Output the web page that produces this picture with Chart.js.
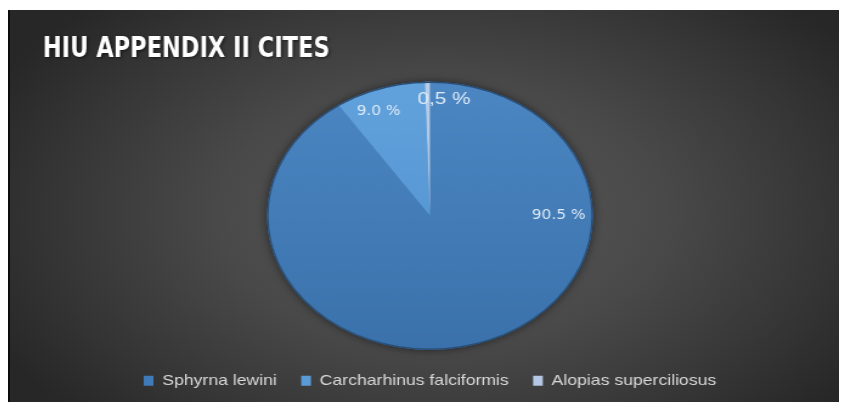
<!DOCTYPE html>
<html>
<head>
<meta charset="utf-8">
<script src="https://cdn.jsdelivr.net/npm/chart.js@4/dist/chart.umd.min.js"></script>
<style>
  html, body { margin: 0; padding: 0; background: #fff; }
  #frame {
    position: absolute; left: 8px; top: 10px;
    width: 829px; height: 392px;
    border-left: 2px solid #0c0c0c;
    background: radial-gradient(ellipse 60% 75% at 52% 52%, #5a5a5a 0%, #494949 45%, #343434 80%, #272727 100%);
    overflow: hidden;
  }
  /* the original picture is stretched sideways, so the canvas is too */
  #chart { position: absolute; left: 0; top: 0; transform: scaleX(1.2155); transform-origin: 0 0; }
</style>
</head>
<body>
<div id="frame"><canvas id="chart" width="682" height="392"></canvas></div>
<script>
// Tiedot kuvasta
const chartTitle = 'HIU APPENDIX II CITES';
const species = ['Sphyrna lewini', 'Carcharhinus falciformis', 'Alopias superciliosus'];
const shares = [90.5, 9.0, 0.5];
const shareTexts = ['90.5 %', '9.0 %', '0,5 %'];
const sliceTop = ['#4c87c3', '#62a2dc', '#b6cfec'];
const sliceBottom = ['#3a71ab', '#4d8ecd', '#a3bee0'];
const legendColors = ['#3f7bb8', '#5b9bd5', '#b4c7e7'];

// Liukuväri jokaiselle siivulle
const sliceFill = (c) => {
  const area = c.chart.chartArea;
  const i = c.dataIndex;
  if (!area) return legendColors[i];
  const g = c.chart.ctx.createLinearGradient(0, area.top, 0, area.bottom);
  g.addColorStop(0, sliceTop[i]);
  g.addColorStop(1, sliceBottom[i]);
  return g;
};

// Otsikko kapealla fontilla (piirretään itse, jotta saadaan kapea muoto)
const narrowTitle = {
  id: 'narrowTitle',
  afterDraw(chart) {
    const ctx = chart.ctx;
    ctx.save();
    ctx.font = 'bold 28px "DejaVu Sans Condensed", "DejaVu Sans"';
    const w = ctx.measureText(chartTitle).width;
    const sx = 236 / w;
    ctx.translate(27, 47);
    ctx.scale(sx, 1);
    ctx.shadowColor = 'rgba(0,0,0,0.6)';
    ctx.shadowBlur = 3;
    ctx.shadowOffsetX = 1;
    ctx.shadowOffsetY = 1;
    ctx.fillStyle = '#ffffff';
    ctx.textBaseline = 'alphabetic';
    ctx.fillText(chartTitle, 0, 0);
    ctx.restore();
  }
};

// Varjo ja reunaviiva piirakan ympärille
const pieEdge = {
  id: 'pieEdge',
  beforeDatasetsDraw(chart) {
    const arc = chart.getDatasetMeta(0).data[0];
    if (!arc) return;
    const { x, y, outerRadius } = arc.getProps(['x', 'y', 'outerRadius'], true);
    const ctx = chart.ctx;
    ctx.save();
    ctx.shadowColor = 'rgba(0,0,0,0.55)';
    ctx.shadowBlur = 8;
    ctx.fillStyle = '#3a71ab';
    ctx.beginPath();
    ctx.arc(x, y, outerRadius, 0, Math.PI * 2);
    ctx.fill();
    ctx.restore();
  },
  afterDatasetsDraw(chart) {
    const arc = chart.getDatasetMeta(0).data[0];
    if (!arc) return;
    const { x, y, outerRadius } = arc.getProps(['x', 'y', 'outerRadius'], true);
    const ctx = chart.ctx;
    ctx.save();
    ctx.strokeStyle = '#2a4e76';
    ctx.lineWidth = 1.3;
    ctx.beginPath();
    ctx.arc(x, y, outerRadius - 0.5, 0, Math.PI * 2);
    ctx.stroke();
    ctx.restore();
  }
};

// Prosenttitekstit siivujen päälle
const sliceLabels = {
  id: 'sliceLabels',
  afterDatasetsDraw(chart) {
    const ctx = chart.ctx;
    chart.getDatasetMeta(0).data.forEach((arc, i) => {
      const p = arc.getProps(['x', 'y', 'startAngle', 'endAngle', 'outerRadius'], true);
      let a = (p.startAngle + p.endAngle) / 2;
      let f = 0.84;
      if (i === 0) { a = 0; f = 0.79; }          // iso siivu: teksti oikealle
      if (i === 1) { a -= 0.07; }
      if (i === 2) { a += 0.115; f = 0.87; }     // pieni siivu: hieman sivuun
      const lx = p.x + Math.cos(a) * p.outerRadius * f;
      const ly = p.y + Math.sin(a) * p.outerRadius * f;
      ctx.save();
      ctx.font = i === 2 ? '17px "Liberation Sans"' : '14px "DejaVu Sans Condensed"';
      ctx.fillStyle = '#deebf8';
      ctx.textAlign = 'center';
      ctx.textBaseline = 'middle';
      ctx.fillText(shareTexts[i], lx, ly);
      ctx.restore();
    });
  }
};

const ctx = document.getElementById('chart').getContext('2d');
new Chart(ctx, {
  type: 'pie',
  data: {
    labels: species,
    datasets: [{
      data: shares,
      backgroundColor: sliceFill,
      borderWidth: 0,
      radius: 134
    }]
  },
  options: {
    responsive: false,
    animation: false,
    layout: { padding: { left: 27, right: 18, top: 68, bottom: 4 } },
    plugins: {
      title: { display: false },
      legend: {
        position: 'bottom',
        labels: {
          boxWidth: 8,
          boxHeight: 10,
          padding: 20,
          color: '#d9d9d9',
          font: { family: '"Liberation Sans"', size: 14.5 },
          generateLabels: () => species.map((t, i) => ({
            text: t,
            fillStyle: legendColors[i],
            strokeStyle: legendColors[i],
            lineWidth: 0,
            fontColor: '#d9d9d9',
            hidden: false,
            index: i
          }))
        }
      },
      tooltip: { enabled: false }
    }
  },
  plugins: [pieEdge, sliceLabels, narrowTitle]
});
</script>
</body>
</html>
